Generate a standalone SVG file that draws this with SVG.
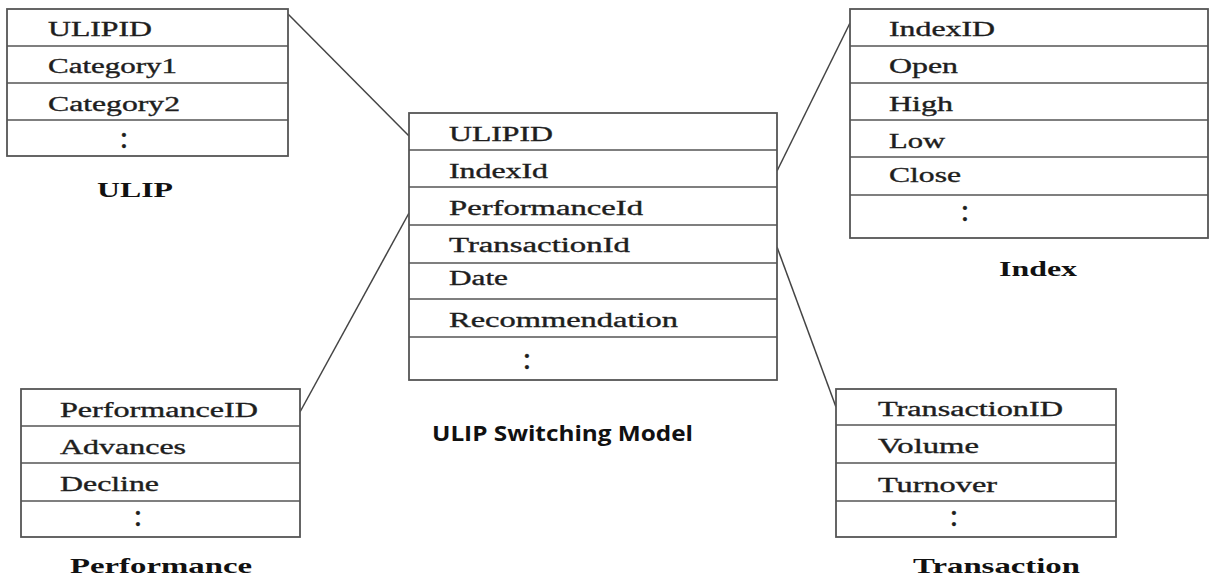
<svg xmlns="http://www.w3.org/2000/svg" width="1212" height="578" viewBox="0 0 1212 578">
<style>
.box{fill:#fff;stroke:#555;stroke-width:1.8}
.sep{stroke:#555;stroke-width:1.6}
.f{font-family:"Liberation Serif","Times New Roman",serif;font-size:20px;fill:#1e1e1e;stroke:#1e1e1e;stroke-width:0.35}
.d{font-family:"Liberation Serif","Times New Roman",serif;font-size:32px;fill:#1e1e1e;stroke:#1e1e1e;stroke-width:0.4;text-anchor:middle}
.lbl{font-family:"Liberation Serif","Times New Roman",serif;font-size:22px;font-weight:bold;fill:#111}
.title{font-family:"Open Sans","Liberation Sans",sans-serif;font-size:21px;font-weight:bold;fill:#111}
.conn{stroke:#444;stroke-width:1.5;fill:none}
</style>
<rect width="1212" height="578" fill="#fff"/>
<g id="connectors">
<line class="conn" x1="288" y1="14" x2="409" y2="136"/>
<line class="conn" x1="300" y1="412" x2="409" y2="213"/>
<line class="conn" x1="777" y1="171" x2="850" y2="23"/>
<line class="conn" x1="777" y1="247" x2="836" y2="407"/>
</g>
<g id="ulip">
<rect class="box" x="7" y="9" width="281" height="147"/>
<line class="sep" x1="7" y1="46" x2="288" y2="46"/>
<line class="sep" x1="7" y1="83" x2="288" y2="83"/>
<line class="sep" x1="7" y1="120" x2="288" y2="120"/>
<text class="f" x="48" y="36" textLength="104" lengthAdjust="spacingAndGlyphs">ULIPID</text>
<text class="f" x="48" y="73" textLength="129" lengthAdjust="spacingAndGlyphs">Category1</text>
<text class="f" x="48" y="111" textLength="132" lengthAdjust="spacingAndGlyphs">Category2</text>
<text class="d" x="124" y="148">:</text>
<text class="lbl" x="97" y="197" textLength="76" lengthAdjust="spacingAndGlyphs">ULIP</text>
</g>
<g id="switching-model">
<rect class="box" x="409" y="113" width="368" height="267"/>
<line class="sep" x1="409" y1="150" x2="777" y2="150"/>
<line class="sep" x1="409" y1="187" x2="777" y2="187"/>
<line class="sep" x1="409" y1="225" x2="777" y2="225"/>
<line class="sep" x1="409" y1="263" x2="777" y2="263"/>
<line class="sep" x1="409" y1="299" x2="777" y2="299"/>
<line class="sep" x1="409" y1="337" x2="777" y2="337"/>
<text class="f" x="449" y="141" textLength="104" lengthAdjust="spacingAndGlyphs">ULIPID</text>
<text class="f" x="449" y="178" textLength="99" lengthAdjust="spacingAndGlyphs">IndexId</text>
<text class="f" x="449" y="215" textLength="194" lengthAdjust="spacingAndGlyphs">PerformanceId</text>
<text class="f" x="449" y="252" textLength="181" lengthAdjust="spacingAndGlyphs">TransactionId</text>
<text class="f" x="449" y="285" textLength="59" lengthAdjust="spacingAndGlyphs">Date</text>
<text class="f" x="449" y="327" textLength="229" lengthAdjust="spacingAndGlyphs">Recommendation</text>
<text class="d" x="527" y="369">:</text>
<text class="title" x="432" y="441" textLength="261" lengthAdjust="spacingAndGlyphs">ULIP Switching Model</text>
</g>
<g id="index">
<rect class="box" x="850" y="9" width="358" height="229"/>
<line class="sep" x1="850" y1="46" x2="1208" y2="46"/>
<line class="sep" x1="850" y1="83" x2="1208" y2="83"/>
<line class="sep" x1="850" y1="120" x2="1208" y2="120"/>
<line class="sep" x1="850" y1="157" x2="1208" y2="157"/>
<line class="sep" x1="850" y1="195" x2="1208" y2="195"/>
<text class="f" x="889" y="36" textLength="106" lengthAdjust="spacingAndGlyphs">IndexID</text>
<text class="f" x="889" y="73" textLength="69" lengthAdjust="spacingAndGlyphs">Open</text>
<text class="f" x="889" y="111" textLength="64" lengthAdjust="spacingAndGlyphs">High</text>
<text class="f" x="889" y="148" textLength="56" lengthAdjust="spacingAndGlyphs">Low</text>
<text class="f" x="889" y="182" textLength="72" lengthAdjust="spacingAndGlyphs">Close</text>
<text class="d" x="965" y="221">:</text>
<text class="lbl" x="999" y="276" textLength="78" lengthAdjust="spacingAndGlyphs">Index</text>
</g>
<g id="performance">
<rect class="box" x="21" y="389" width="279" height="148"/>
<line class="sep" x1="21" y1="426" x2="300" y2="426"/>
<line class="sep" x1="21" y1="463" x2="300" y2="463"/>
<line class="sep" x1="21" y1="501" x2="300" y2="501"/>
<text class="f" x="60" y="417" textLength="198" lengthAdjust="spacingAndGlyphs">PerformanceID</text>
<text class="f" x="60" y="454" textLength="126" lengthAdjust="spacingAndGlyphs">Advances</text>
<text class="f" x="60" y="491" textLength="99" lengthAdjust="spacingAndGlyphs">Decline</text>
<text class="d" x="138" y="526">:</text>
<text class="lbl" x="70" y="573" textLength="182" lengthAdjust="spacingAndGlyphs">Performance</text>
</g>
<g id="transaction">
<rect class="box" x="836" y="389" width="280" height="148"/>
<line class="sep" x1="836" y1="425" x2="1116" y2="425"/>
<line class="sep" x1="836" y1="463" x2="1116" y2="463"/>
<line class="sep" x1="836" y1="501" x2="1116" y2="501"/>
<text class="f" x="878" y="416" textLength="185" lengthAdjust="spacingAndGlyphs">TransactionID</text>
<text class="f" x="878" y="453" textLength="101" lengthAdjust="spacingAndGlyphs">Volume</text>
<text class="f" x="878" y="492" textLength="119" lengthAdjust="spacingAndGlyphs">Turnover</text>
<text class="d" x="954" y="526">:</text>
<text class="lbl" x="913" y="573" textLength="167" lengthAdjust="spacingAndGlyphs">Transaction</text>
</g>
</svg>
